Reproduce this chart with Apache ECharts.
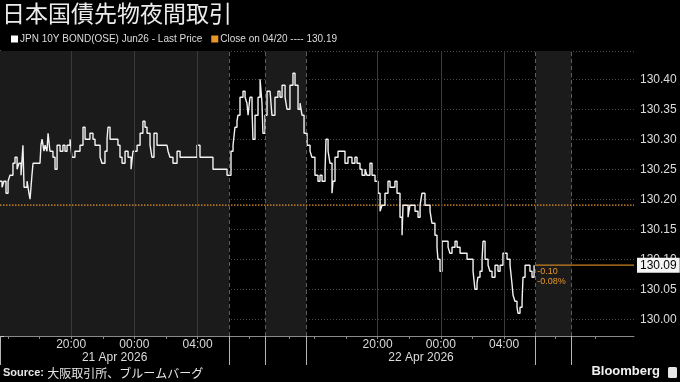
<!DOCTYPE html>
<html><head><meta charset="utf-8">
<script src="https://cdn.jsdelivr.net/npm/echarts@6/dist/echarts.min.js"></script>
<style>html,body{margin:0;padding:0;background:#000}#c{width:680px;height:382px}</style>
</head><body><div id="c"></div>
<script>
// compressed trading-hour axis: 0 = 15:30 (20 Apr) night session start
const times = [0,0.13,0.25,0.38,0.51,0.63,0.82,0.95,1.08,1.20,1.33,1.45,1.52,1.71,1.83,1.90,2.02,2.09,2.28,2.53,2.59,2.66,2.78,2.85,2.97,3.04,3.16,3.35,3.48,3.61,3.80,3.98,4.11,4.24,4.43,4.55,4.74,4.87,5.06,5.25,5.38,5.50,5.69,5.88,6.01,6.20,6.33,6.45,6.64,6.77,6.83,6.96,7.08,7.27,7.46,7.59,7.72,7.91,8.10,8.29,8.41,8.54,8.67,8.86,9.04,9.17,9.30,9.49,9.61,9.74,9.93,10.12,10.31,10.56,10.63,10.75,10.94,11.20,11.39,11.70,12.02,12.21,12.46,12.65,12.97,13.28,13.47,13.73,13.92,14.23,14.36,14.48,14.61,14.74,14.86,14.99,15.05,15.18,15.37,15.50,15.62,15.69,15.81,15.94,16.00,16.13,16.32,16.45,16.57,16.63,16.76,16.89,17.08,17.20,17.39,17.58,17.71,17.84,18.03,18.15,18.34,18.53,18.66,18.85,18.98,19.10,19.23,19.42,19.61,19.73,19.92,20.11,20.24,20.37,20.56,20.62,20.75,20.87,21.00,21.06,21.19,21.38,21.63,21.82,22.01,22.26,22.45,22.58,22.77,22.90,23.09,23.21,23.40,23.53,23.72,23.91,24.04,24.16,24.35,24.54,24.67,24.79,24.98,25.11,25.30,25.43,25.49,25.68,25.81,25.93,26.06,26.25,26.44,26.57,26.69,26.88,27.07,27.20,27.32,27.51,27.64,27.70,27.83,27.96,28.15,28.34,28.46,28.59,28.78,28.91,28.97,29.10,29.28,29.54,29.73,29.85,29.92,30.04,30.17,30.23,30.36,30.49,30.55,30.68,30.87,30.99,31.12,31.31,31.50,31.63,31.75,31.81,31.94,32.07,32.26,32.38,32.45,32.57,32.70,32.76,32.89,33.02,33.08,33.21,33.33,33.52,33.65,33.78];
const prices = [130.23,130.22,130.23,130.21,130.23,130.24,130.26,130.27,130.25,130.26,130.24,130.29,130.22,130.23,130.21,130.20,130.24,130.26,130.26,130.26,130.29,130.30,130.28,130.29,130.28,130.31,130.28,130.27,130.25,130.29,130.28,130.29,130.28,130.29,130.30,130.27,130.28,130.28,130.29,130.32,130.30,130.30,130.31,130.30,130.29,130.29,130.27,130.26,130.28,130.30,130.32,130.30,130.30,130.30,130.29,130.27,130.26,130.28,130.27,130.25,130.28,130.28,130.29,130.31,130.33,130.32,130.31,130.29,130.27,130.31,130.29,130.29,130.29,130.29,130.28,130.27,130.26,130.28,130.27,130.27,130.27,130.27,130.29,130.27,130.27,130.27,130.25,130.25,130.25,130.25,130.24,130.24,130.28,130.29,130.32,130.33,130.34,130.37,130.38,130.37,130.36,130.34,130.37,130.35,130.30,130.34,130.37,130.40,130.36,130.31,130.34,130.38,130.38,130.34,130.37,130.38,130.37,130.39,130.37,130.35,130.39,130.41,130.39,130.35,130.36,130.34,130.31,130.29,130.28,130.27,130.24,130.23,130.24,130.23,130.25,130.30,130.28,130.26,130.21,130.23,130.27,130.28,130.28,130.26,130.27,130.26,130.27,130.26,130.25,130.24,130.25,130.24,130.26,130.24,130.23,130.21,130.18,130.19,130.21,130.23,130.22,130.22,130.23,130.21,130.17,130.14,130.19,130.19,130.17,130.19,130.19,130.18,130.17,130.19,130.21,130.19,130.19,130.18,130.16,130.14,130.12,130.10,130.08,130.13,130.13,130.12,130.11,130.12,130.13,130.12,130.12,130.11,130.11,130.10,130.10,130.10,130.08,130.05,130.06,130.07,130.08,130.10,130.13,130.10,130.09,130.08,130.07,130.09,130.08,130.09,130.09,130.11,130.11,130.10,130.09,130.06,130.04,130.03,130.02,130.01,130.02,130.03,130.07,130.09,130.09,130.08,130.07,130.09];
const closePrice = 130.19;
const lastPrice = 130.09;
const changeText = ['-0.10', '-0.08%'];
const seriesName = 'JPN 10Y BOND(OSE) Jun26 - Last Price';
const closeName = 'Close on 04/20 ---- 130.19';
const axisEnd = 40.1;
const sessionBreaks = [0, 14.5, 16.78, 19.38, 33.88, 36.16];
const shadedSessions = [[0, 14.5], [16.78, 19.38], [33.88, 36.16]];
const hourTicks = [0.5,2.5,4.5,6.5,8.5,10.5,12.5,15.75,18.28,19.88,21.88,23.88,25.88,27.88,29.88,31.88,35.10,37.63];
const labelTicks = [4.5, 8.5, 12.5, 23.88, 27.88, 31.88];
const tickLabels = ['20:00', '00:00', '04:00', '20:00', '00:00', '04:00'];
const dateCenters = [7.25, 26.63];
const dateLabels = ['21 Apr 2026', '22 Apr 2026'];
const yMin = 129.972, yMax = 130.447;

const ORANGE = '#e8962a';
const LAST_ORANGE = '#c98220';
const FONT = '"Liberation Sans", Arial, sans-serif';
const findLabel = (vals, labs) => v => { const i = vals.findIndex(x => Math.abs(x - v) < 1e-6); return i >= 0 ? labs[i] : ''; };

const chart = echarts.init(document.getElementById('c'), null, {renderer: 'canvas'});
chart.setOption({
  backgroundColor: '#000',
  animation: false,
  title: {
    text: '日本国債先物夜間取引', left: 2, top: 2, padding: 0,
    textStyle: {color: '#ececec', fontSize: 23, fontWeight: 'normal', fontFamily: '"Noto Sans CJK JP", sans-serif'}
  },
  legend: {
    left: 11, top: 34, padding: 0, itemWidth: 7, itemHeight: 7, itemGap: 9,
    selectedMode: false,
    textStyle: {color: '#dcdcdc', fontSize: 10, fontFamily: FONT, padding: [0, 0, 0, -3]},
    data: [
      {name: seriesName, icon: 'rect', itemStyle: {color: '#ffffff'}},
      {name: closeName, icon: 'rect', itemStyle: {color: ORANGE}}
    ]
  },
  grid: {left: 0, right: 46, top: 51, bottom: 46, containLabel: false},
  xAxis: [
    {
      type: 'value', min: 0, max: axisEnd, position: 'bottom',
      axisLine: {show: true, lineStyle: {color: '#8a8a8a', width: 1}},
      axisTick: {show: true, customValues: hourTicks, length: 3, lineStyle: {color: '#8a8a8a'}},
      axisLabel: {show: true, customValues: labelTicks, formatter: findLabel(labelTicks, tickLabels),
        margin: 3, color: '#dcdcdc', fontSize: 12, fontFamily: FONT},
      splitLine: {show: false}
    },
    {
      type: 'value', min: 0, max: axisEnd, position: 'bottom', offset: 0,
      axisLine: {show: false},
      axisTick: {show: true, customValues: sessionBreaks, length: 29, lineStyle: {color: '#b5b5b5'}},
      axisLabel: {show: false},
      splitLine: {show: false}
    },
    {
      type: 'value', min: 0, max: axisEnd, position: 'bottom', offset: 0,
      axisLine: {show: false}, axisTick: {show: false},
      axisLabel: {show: true, customValues: dateCenters, formatter: findLabel(dateCenters, dateLabels),
        margin: 16, color: '#dcdcdc', fontSize: 12, fontFamily: FONT},
      splitLine: {show: false}
    }
  ],
  yAxis: {
    type: 'value', position: 'right', min: yMin, max: yMax, splitNumber: 9,
    minInterval: 0.05, maxInterval: 0.05,
    axisLine: {show: true, lineStyle: {color: '#c8c8c8', width: 1}},
    axisTick: {show: true, length: 4, lineStyle: {color: '#c8c8c8'}},
    minorTick: {show: true, splitNumber: 2, length: 3, lineStyle: {color: '#c8c8c8'}},
    axisLabel: {show: true, margin: 6, color: '#dcdcdc', fontSize: 12, fontFamily: FONT,
      showMinLabel: false, showMaxLabel: false, formatter: v => v.toFixed(2)},
    splitLine: {show: true, lineStyle: {color: '#4a4a4a', type: [1, 2], width: 1}}
  },
  series: [
    {
      name: 'bands', type: 'line', data: [], z: 1, silent: true,
      markArea: {silent: true, itemStyle: {color: '#1b1b1b'},
        data: shadedSessions.map(s => [{xAxis: s[0]}, {xAxis: s[1]}])},
      markLine: {silent: true, symbol: ['none', 'none'], label: {show: false},
        data: [
          ...labelTicks.map(v => ({xAxis: v, lineStyle: {color: '#3a3a3a', type: 'solid', width: 1}})),
          ...sessionBreaks.slice(1).map(v => ({xAxis: v, lineStyle: {color: '#5c5c5c', type: [4, 3], width: 1}}))
        ]}
    },
    {
      name: closeName, type: 'line', z: 2, symbol: 'none', silent: true,
      data: [[0, closePrice], [axisEnd, closePrice]],
      lineStyle: {color: ORANGE, width: 1.2, type: [1.5, 1.5]},
      itemStyle: {color: ORANGE}
    },
    {
      name: 'last', type: 'line', z: 4, symbol: 'none', silent: true,
      data: [[sessionBreaks[4], lastPrice], [axisEnd, lastPrice]],
      lineStyle: {color: LAST_ORANGE, width: 1.3, type: 'solid'},
      itemStyle: {color: LAST_ORANGE},
      endLabel: {show: true, distance: 3, formatter: lastPrice.toFixed(2),
        color: '#000', backgroundColor: '#f4f4f4', padding: [2, 3, 1, 3], fontSize: 12, fontFamily: FONT},
      markPoint: {silent: true, symbol: 'rect', symbolSize: 1,
        itemStyle: {color: 'rgba(0,0,0,0)'},
        data: [{coord: [sessionBreaks[4], lastPrice],
          label: {show: true, position: [2, 2], align: 'left', verticalAlign: 'top',
            formatter: changeText.join('\n'), color: ORANGE, fontSize: 9, lineHeight: 10, fontFamily: FONT}}]}
    },
    {
      name: seriesName, type: 'line', z: 3, symbol: 'none', silent: true, step: 'end',
      data: times.map((t, i) => [t, prices[i]]),
      lineStyle: {color: '#f2f2f2', width: 1.4},
      itemStyle: {color: '#ffffff'}
    }
  ],
  graphic: [
    {type: 'text', left: 3, top: 367, style: {
      text: '{b|Source:} {n|大阪取引所、ブルームバーグ}',
      rich: {
        b: {fill: '#e6e6e6', fontSize: 11, fontWeight: 'bold', fontFamily: FONT},
        n: {fill: '#e6e6e6', fontSize: 12, fontFamily: '"Noto Sans CJK JP", sans-serif'}
      }}},
    {type: 'text', right: 20, top: 365, style: {
      text: 'Bloomberg', fill: '#f0f0f0', fontSize: 13, fontWeight: 'bold', fontFamily: FONT}},
    {type: 'rect', right: 3, top: 367, shape: {width: 9, height: 11, r: 1.5}, style: {fill: '#e6e6e6'}}
  ]
});
</script></body></html>
